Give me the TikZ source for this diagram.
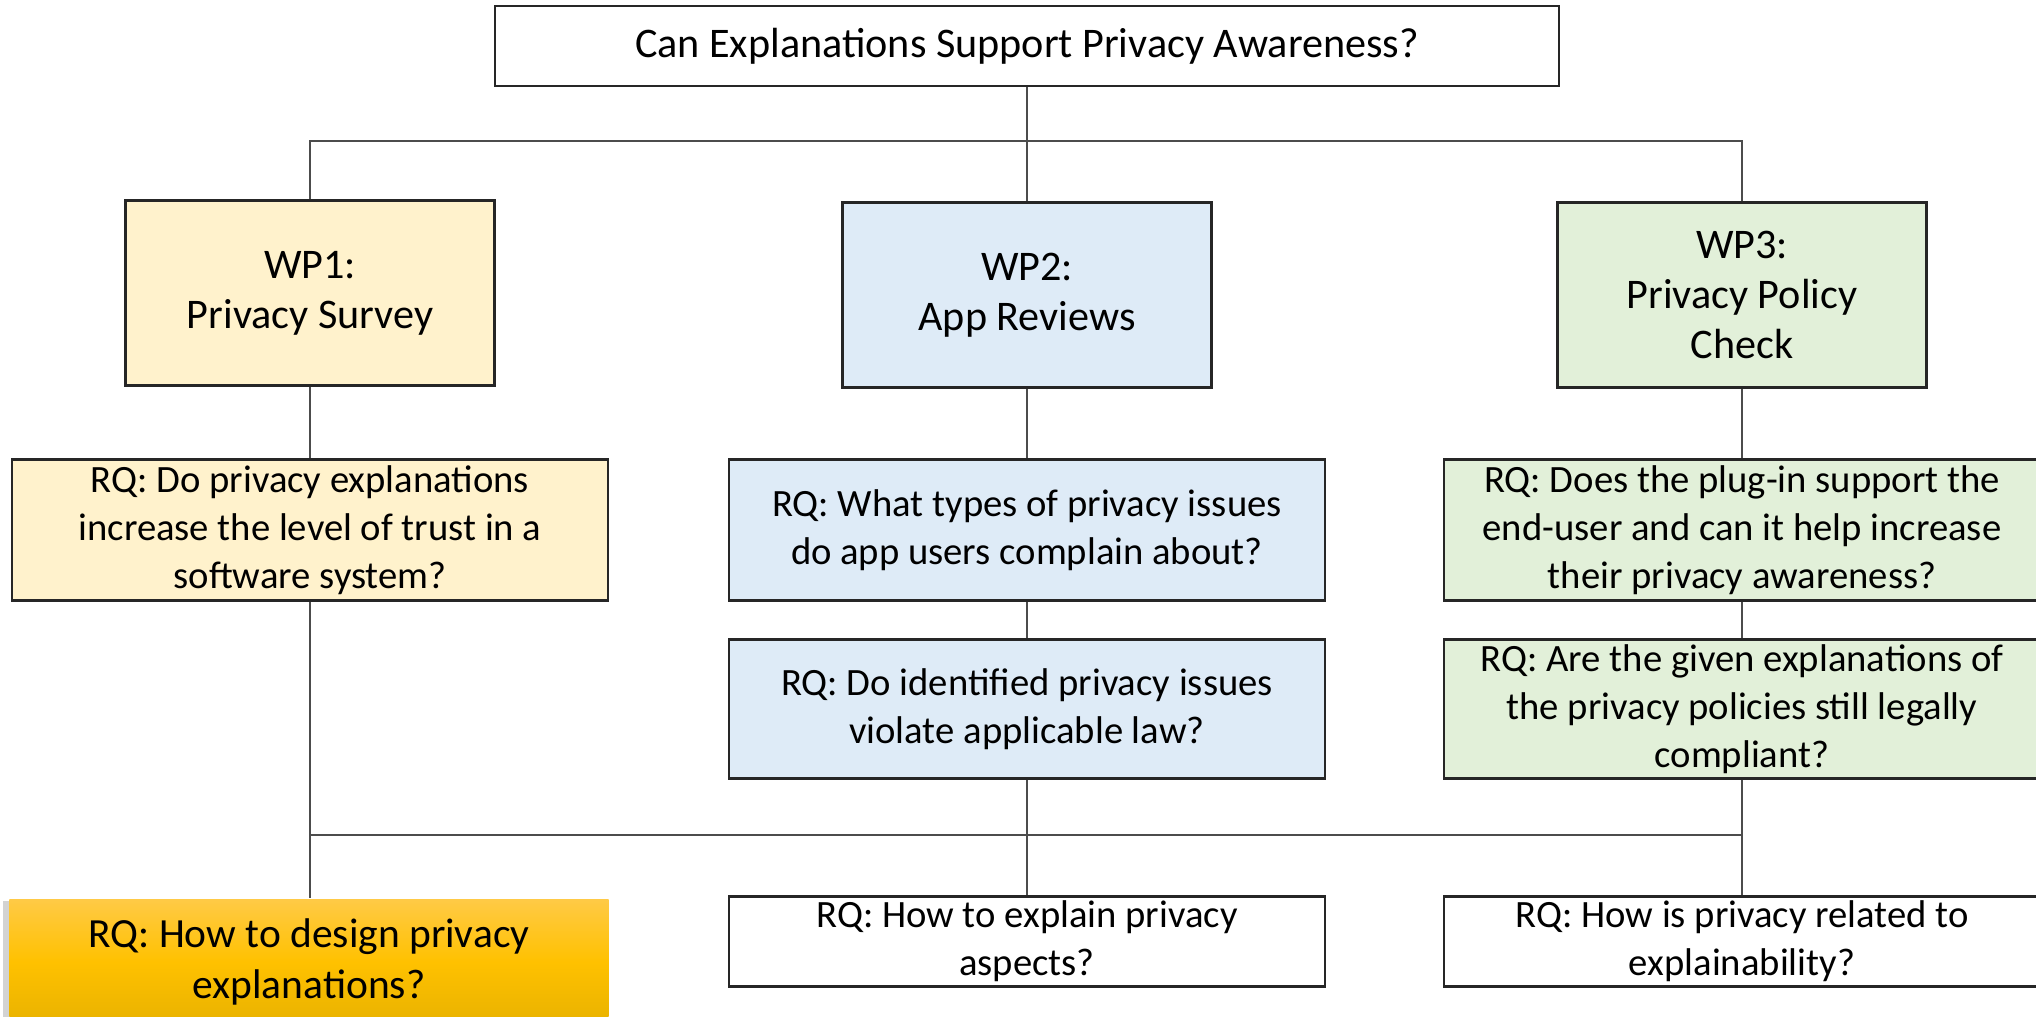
\documentclass[tikz,border=0pt]{standalone}
\usepackage{fontspec}
\setmainfont{Carlito}
\usetikzlibrary{shadows}

\definecolor{wpyellow}{RGB}{255,242,204}
\definecolor{wpblue}{RGB}{222,235,247}
\definecolor{wpgreen}{RGB}{226,240,217}
\definecolor{goldtop}{RGB}{255,202,70}
\definecolor{goldmid}{RGB}{255,193,0}
\definecolor{goldbot}{RGB}{232,178,0}

\tikzset{
  box/.style={draw=black!85, line width=0.6pt, align=center, inner sep=0pt},
  wpbox/.style={box, minimum width=3.69cm, minimum height=1.85cm,
    font=\fontsize{12}{14.3}\selectfont},
  rqbox/.style={box, minimum width=5.96cm, minimum height=1.41cm,
    font=\fontsize{11}{13.7}\selectfont},
  link/.style={draw=black!70, line width=0.45pt}
}

\begin{document}
\begin{tikzpicture}
    \useasboundingbox (0cm,0cm) rectangle (20.36cm,-10.16cm);
    \clip (0cm,0cm) rectangle (20.36cm,-10.16cm);

    \node[box, minimum width=10.64cm, minimum height=0.8cm,
      font=\fontsize{12}{14.5}\selectfont] (question) at (10.27cm,-0.46cm)
      {Can Explanations Support Privacy Awareness?};

    \node[wpbox, fill=wpyellow] (wp1) at (3.10cm,-2.93cm) {WP1:\\Privacy Survey};
    \node[wpbox, fill=wpblue] (wp2) at (10.27cm,-2.95cm) {WP2:\\App Reviews};
    \node[wpbox, fill=wpgreen] (wp3) at (17.42cm,-2.95cm)
      {WP3:\\Privacy Policy\\Check};

    \node[rqbox, fill=wpyellow] (rq1) at (3.10cm,-5.30cm)
      {RQ: Do privacy explanations\\increase the level of trust in a\\software system?};
    \node[rqbox, fill=wpblue] (rq2a) at (10.27cm,-5.30cm)
      {RQ: What types of privacy issues\\do app users complain about?};
    \node[rqbox, fill=wpblue, minimum height=1.39cm] (rq2b) at (10.27cm,-7.09cm)
      {RQ: Do identified privacy issues\\violate applicable law?};
    \node[rqbox, fill=wpgreen] (rq3a) at (17.42cm,-5.30cm)
      {RQ: Does the plug-in support the\\end-user and can it help increase\\their privacy awareness?};
    \node[rqbox, fill=wpgreen, minimum height=1.39cm] (rq3b) at (17.42cm,-7.09cm)
      {RQ: Are the given explanations of\\the privacy policies still legally\\compliant?};

    \node[align=center, inner sep=0pt, minimum width=5.99cm, minimum height=1.26cm,
      top color=goldtop, bottom color=goldbot, middle color=goldmid,
      drop shadow={shadow xshift=-0.06cm, shadow yshift=-0.02cm, opacity=0.35},
      font=\fontsize{11.8}{14.6}\selectfont] (rqdesign) at (3.09cm,-9.62cm)
      {RQ: How to design privacy\\explanations?};
    \node[rqbox, minimum height=0.90cm] (rqexplain) at (10.27cm,-9.415cm)
      {RQ: How to explain privacy\\aspects?};
    \node[rqbox, minimum height=0.90cm] (rqrelated) at (17.42cm,-9.415cm)
      {RQ: How is privacy related to\\explainability?};

    \coordinate (topbar) at (0cm,-1.41cm);
    \coordinate (bottombar) at (0cm,-8.35cm);

    \draw[link] (question) -- (wp2);
    \draw[link] (wp1.north) -- (wp1.north |- topbar) -- (wp3.north |- topbar)
      -- (wp3.north);
    \draw[link] (wp1) -- (rq1);
    \draw[link] (wp2) -- (rq2a);
    \draw[link] (rq2a) -- (rq2b);
    \draw[link] (wp3) -- (rq3a);
    \draw[link] (rq3a) -- (rq3b);
    \draw[link] (rq1.south |- bottombar) -- (rq3b.south |- bottombar);
    \draw[link] (rq1.south) -- (rq1.south |- rqdesign.north);
    \draw[link] (rq2b) -- (rqexplain);
    \draw[link] (rq3b) -- (rqrelated);
\end{tikzpicture}
\end{document}
